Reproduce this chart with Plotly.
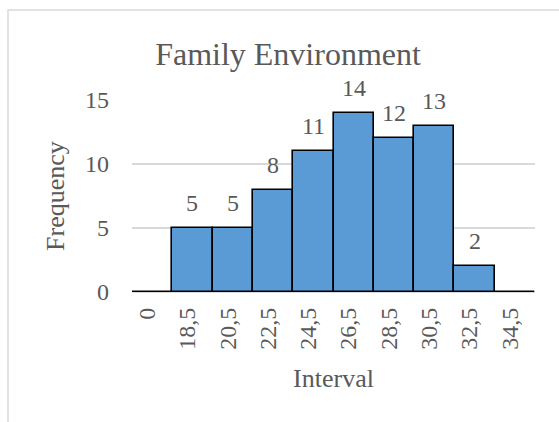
import plotly.graph_objects as go

# Histogram of Family Environment scores
intervals = ["0", "18,5", "20,5", "22,5", "24,5", "26,5", "28,5", "30,5", "32,5", "34,5"]
frequency = [0, 5, 5, 8, 11, 14, 12, 13, 2, 0]
y_ticks = [0, 5, 10, 15]

FONT = "Liberation Serif"
TEXT = "#595959"
GRID = "#d9d9d9"

W, H = 559, 422
L, R, T, B = 132, 24, 100, 130

fig = go.Figure()
fig.add_trace(go.Bar(
    x=intervals,
    y=frequency,
    marker=dict(color="#5b9bd5", line=dict(color="#000000", width=1.6)),
    width=1.0,
    hoverinfo="x+y",
))

# value labels above non-empty bars
for cat, val in zip(intervals, frequency):
    if val > 0:
        fig.add_annotation(
            x=cat, y=val, text=str(val), showarrow=False,
            yanchor="bottom", yshift=10,
            font=dict(family=FONT, size=24, color=TEXT),
        )

# outer chart frame
pw, ph = W - L - R, H - T - B
fig.add_shape(
    type="rect", xref="paper", yref="paper",
    x0=(8 - L) / pw, x1=1.3, y0=-1.2, y1=(H - B - 10) / ph,
    line=dict(color=GRID, width=1.5), fillcolor="rgba(0,0,0,0)", layer="below",
)

fig.update_layout(
    width=W, height=H,
    margin=dict(l=L, r=R, t=T, b=B),
    paper_bgcolor="white", plot_bgcolor="white",
    bargap=0,
    showlegend=False,
    font=dict(family=FONT, color=TEXT),
    title=dict(
        text="Family Environment",
        xref="container", yref="container",
        x=288 / W, y=1 - 54 / H, xanchor="center", yanchor="middle",
        font=dict(family=FONT, size=32, color=TEXT),
    ),
    xaxis=dict(
        type="category",
        categoryorder="array", categoryarray=intervals,
        tickangle=-90,
        tickfont=dict(family=FONT, size=24, color=TEXT),
        ticklabelstandoff=10,
        ticklabelshift=-5,
        showgrid=False, showline=False, zeroline=False,
        title=dict(text="Interval", font=dict(family=FONT, size=26, color=TEXT), standoff=20),
    ),
    yaxis=dict(
        range=[0, 15],
        tickvals=y_ticks,
        tickfont=dict(family=FONT, size=24, color=TEXT),
        ticklabelstandoff=22,
        showgrid=True, gridcolor=GRID, gridwidth=1.5,
        zeroline=True, zerolinecolor=GRID, zerolinewidth=1.5,
        showline=False,
        title=dict(text="Frequency", font=dict(family=FONT, size=26, color=TEXT), standoff=12),
    ),
)

fig.write_html("out.html")
